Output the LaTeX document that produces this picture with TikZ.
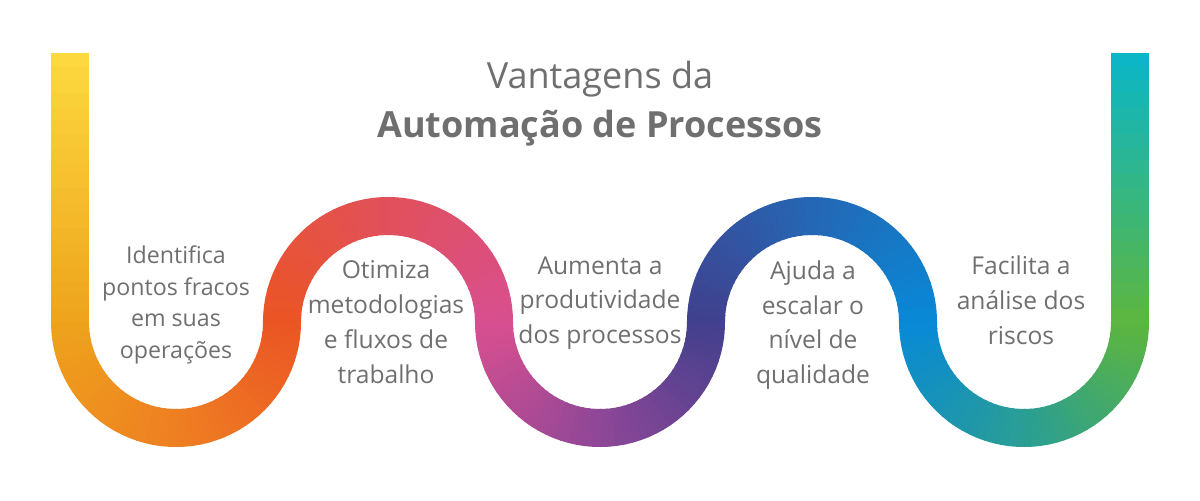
\documentclass[tikz,border=0pt]{standalone}
\usepackage{fontspec}
\setmainfont{Open Sans}
\usetikzlibrary{positioning}

% colori del percorso
\definecolor{cTesto}{HTML}{6F6F6F}
\definecolor{cGiallo}{HTML}{FDD93F}
\definecolor{cOro}{HTML}{EEA31C}
\definecolor{cArancio}{HTML}{EE7F22}
\definecolor{cRosso}{HTML}{EB5524}
\definecolor{cCorallo}{HTML}{E1505C}
\definecolor{cRosa}{HTML}{D84F90}
\definecolor{cViola}{HTML}{8E4797}
\definecolor{cIndaco}{HTML}{41408D}
\definecolor{cBlu}{HTML}{2567B4}
\definecolor{cAzzurro}{HTML}{0889D7}
\definecolor{cPetrolio}{HTML}{2A9E94}
\definecolor{cVerde}{HTML}{5EB63E}
\definecolor{cCiano}{HTML}{0AB6C9}

% arco a sfumatura: centro x, centro y, angolo da, angolo a, colore da, colore a
\newcommand{\arco}[6]{%
  \foreach \k in {0,...,23}{
    \pgfmathsetmacro{\aIni}{#3+(#4-#3)*\k/24}
    \pgfmathsetmacro{\aFin}{#3+(#4-#3)*(\k+1.2)/24}
    \pgfmathtruncatemacro{\perc}{100*(\k+0.5)/24}
    \draw[banda,draw=#6!\perc!#5] ([shift={(\aIni:106)}]#1,#2) arc[start angle=\aIni,end angle=\aFin,radius=106];
  }}
% tratto verticale a sfumatura: x, y da, y a, colore da, colore a
\newcommand{\barra}[5]{%
  \foreach \k in {0,...,19}{
    \pgfmathsetmacro{\yIni}{#2+(#3-#2)*\k/20}
    \pgfmathsetmacro{\yFin}{#2+(#3-#2)*(\k+1.2)/20}
    \pgfmathtruncatemacro{\perc}{100*(\k+0.5)/20}
    \draw[banda,draw=#5!\perc!#4] (#1,\yIni) -- (#1,\yFin);
  }}

\begin{document}
\begin{tikzpicture}[x=0.2mm,y=-0.2mm,
banda/.style={line width=7.6mm,line cap=butt},
testo/.style={text=cTesto,align=center,font=\fontsize{14}{19.8}\selectfont},
testoStretto/.style={testo,font=\fontsize{13.2}{18}\selectfont},
titolo/.style={text=cTesto,anchor=base,font=\fontsize{20.5}{24}\selectfont}
]
\useasboundingbox (0,0) rectangle (1200,500);
%--
\barra{70}{53}{322}{cGiallo}{cOro}
\arco{176}{322}{180}{90}{cOro}{cArancio}
\arco{176}{322}{90}{0}{cArancio}{cRosso}
%--
\arco{388}{322}{180}{270}{cRosso}{cCorallo}
\arco{388}{322}{270}{360}{cCorallo}{cRosa}
%--
\arco{600}{322}{180}{90}{cRosa}{cViola}
\arco{600}{322}{90}{0}{cViola}{cIndaco}
%--
\arco{812}{322}{180}{270}{cIndaco}{cBlu}
\arco{812}{322}{270}{360}{cBlu}{cAzzurro}
%--
\arco{1024}{322}{180}{90}{cAzzurro}{cPetrolio}
\arco{1024}{322}{90}{0}{cPetrolio}{cVerde}
\barra{1130}{53}{322}{cCiano}{cVerde}
%/////////////////////////////////////////////////////////
\node[titolo](t1) at (600,88){Vantagens da};
\node[titolo,font=\fontsize{20.5}{24}\selectfont\bfseries](t2) at (600,137){Automação de Processos};
%--
\node[testoStretto](p1) at (176,305){Identifica\\pontos fracos\\em suas\\operações};
\node[testo](p2) at (386,322){Otimiza\\metodologias\\e fluxos de\\trabalho};
\node[testo](p3) at (600,303){Aumenta a\\produtividade\\dos processos};
\node[testo](p4) at (813,325){Ajuda a\\escalar o\\nível de\\qualidade};
\node[testo](p5) at (1021,300){Facilita a\\análise dos\\riscos};
\end{tikzpicture}
\end{document}
